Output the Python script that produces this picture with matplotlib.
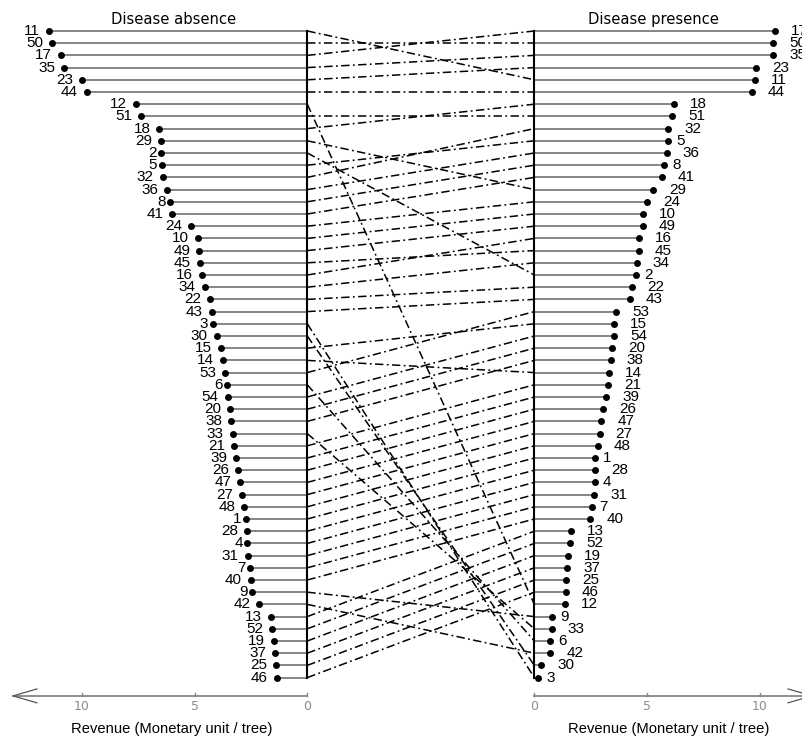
import matplotlib
matplotlib.use("Agg")
import matplotlib.pyplot as plt

# revenue per tree, ranked, disease absence (left) / presence (right)
absence_ids = [11, 50, 17, 35, 23, 44, 12, 51, 18, 29, 2, 5, 32, 36, 8, 41, 24, 10,
               49, 45, 16, 34, 22, 43, 3, 30, 15, 14, 53, 6, 54, 20, 38, 33, 21, 39,
               26, 47, 27, 48, 1, 28, 4, 31, 7, 40, 9, 42, 13, 52, 19, 37, 25, 46]
absence_rev = [11.45, 11.32, 10.92, 10.78, 9.98, 9.78, 7.60, 7.36, 6.56, 6.49, 6.47,
               6.46, 6.41, 6.22, 6.09, 5.99, 5.17, 4.86, 4.79, 4.76, 4.66, 4.55, 4.33,
               4.23, 4.20, 4.02, 3.84, 3.74, 3.65, 3.56, 3.53, 3.44, 3.38, 3.31, 3.24,
               3.16, 3.06, 2.97, 2.88, 2.79, 2.72, 2.69, 2.67, 2.64, 2.54, 2.50, 2.45,
               2.13, 1.61, 1.57, 1.48, 1.43, 1.37, 1.36]

presence_ids = [17, 50, 35, 23, 11, 44, 18, 51, 32, 5, 36, 8, 41, 29, 24, 10, 49, 16,
                45, 34, 2, 22, 43, 53, 15, 54, 20, 38, 14, 21, 39, 26, 47, 27, 48, 1,
                28, 4, 31, 7, 40, 13, 52, 19, 37, 25, 46, 12, 9, 33, 6, 42, 30, 3]
presence_rev = [10.68, 10.58, 10.58, 9.84, 9.77, 9.65, 6.18, 6.12, 5.93, 5.92, 5.87,
                5.75, 5.66, 5.28, 5.00, 4.81, 4.80, 4.62, 4.62, 4.54, 4.50, 4.31, 4.22,
                3.62, 3.54, 3.54, 3.44, 3.38, 3.29, 3.26, 3.17, 3.05, 2.96, 2.89, 2.82,
                2.70, 2.70, 2.69, 2.64, 2.54, 2.48, 1.61, 1.58, 1.49, 1.46, 1.39, 1.39,
                1.36, 0.80, 0.77, 0.71, 0.71, 0.30, 0.18]

tick_vals = [0, 5, 10]

px_per_unit = 22.55
gap = 10.07          # offset of the right panel's zero line
n = len(absence_ids)

fig = plt.figure(figsize=(8.03, 7.37), dpi=100)
ax = fig.add_axes([0, 0, 1, 1])
ax.set_xlim(-307.3 / px_per_unit, (803 - 307.3) / px_per_unit)
ax.set_ylim(57.87, -2.54)
ax.axis("off")

grey = "#858585"
lab_font = "Liberation Sans"

rows = list(range(n))

# left panel
for i, (pid, v) in enumerate(zip(absence_ids, absence_rev)):
    ax.plot([0, -v], [i, i], color=grey, lw=1.4, solid_capstyle="butt", zorder=1)
    lab = str(pid)
    ax.annotate(lab, (-v, i), xytext=(-3.2 * len(lab), 0), textcoords="offset points",
                ha="right", va="center", fontsize=11, family=lab_font)
ax.scatter([-v for v in absence_rev], rows, s=25, color="black", zorder=3, lw=0)
ax.plot([0, 0], [0, n - 1], color="black", lw=1.5, zorder=2)

# right panel
for j, (pid, v) in enumerate(zip(presence_ids, presence_rev)):
    ax.plot([gap, gap + v], [j, j], color=grey, lw=1.4, solid_capstyle="butt", zorder=1)
    lab = str(pid)
    ax.annotate(lab, (gap + v, j), xytext=(5.8 * len(lab), 0), textcoords="offset points",
                ha="left", va="center", fontsize=11, family=lab_font)
ax.scatter([gap + v for v in presence_rev], rows, s=25, color="black", zorder=3, lw=0)
ax.plot([gap, gap], [0, n - 1], color="black", lw=1.5, zorder=2)

# rank changes between the two panels
right_row = {pid: j for j, pid in enumerate(presence_ids)}
for i, pid in enumerate(absence_ids):
    ax.plot([0, gap], [i, right_row[pid]], color="black", lw=1.1,
            dashes=(5.5, 2.2, 1.2, 2.2), zorder=1)

# axes with arrows
y_ax = 54.5
ax.plot([0, -13.05], [y_ax, y_ax], color=grey, lw=1.3)
ax.plot([-11.99, -13.05, -11.99], [y_ax - 0.57, y_ax, y_ax + 0.57], color="#555555", lw=0.9)
ax.plot([gap, 22.38], [y_ax, y_ax], color=grey, lw=1.3)
ax.plot([21.32, 22.38, 21.32], [y_ax - 0.57, y_ax, y_ax + 0.57], color="#555555", lw=0.9)
for t in tick_vals:
    for x in (-t, gap + t):
        ax.plot([x, x], [y_ax, y_ax - 0.25], color=grey, lw=1.0)
        ax.text(x, 55.41, str(t), ha="center", va="center", fontsize=9, color="#8c8c8c")

ax.text(-6.0, 57.21, "Revenue (Monetary unit / tree)", ha="center", va="center",
        fontsize=10.6, family=lab_font)
ax.text(gap + 5.95, 57.21, "Revenue (Monetary unit / tree)", ha="center", va="center",
        fontsize=10.6, family=lab_font)

ax.text(-5.94, -0.98, "Disease absence", ha="center", va="center", fontsize=10.6)
ax.text(gap + 5.27, -0.98, "Disease presence", ha="center", va="center", fontsize=10.6)

fig.savefig("out.png", dpi=100)
